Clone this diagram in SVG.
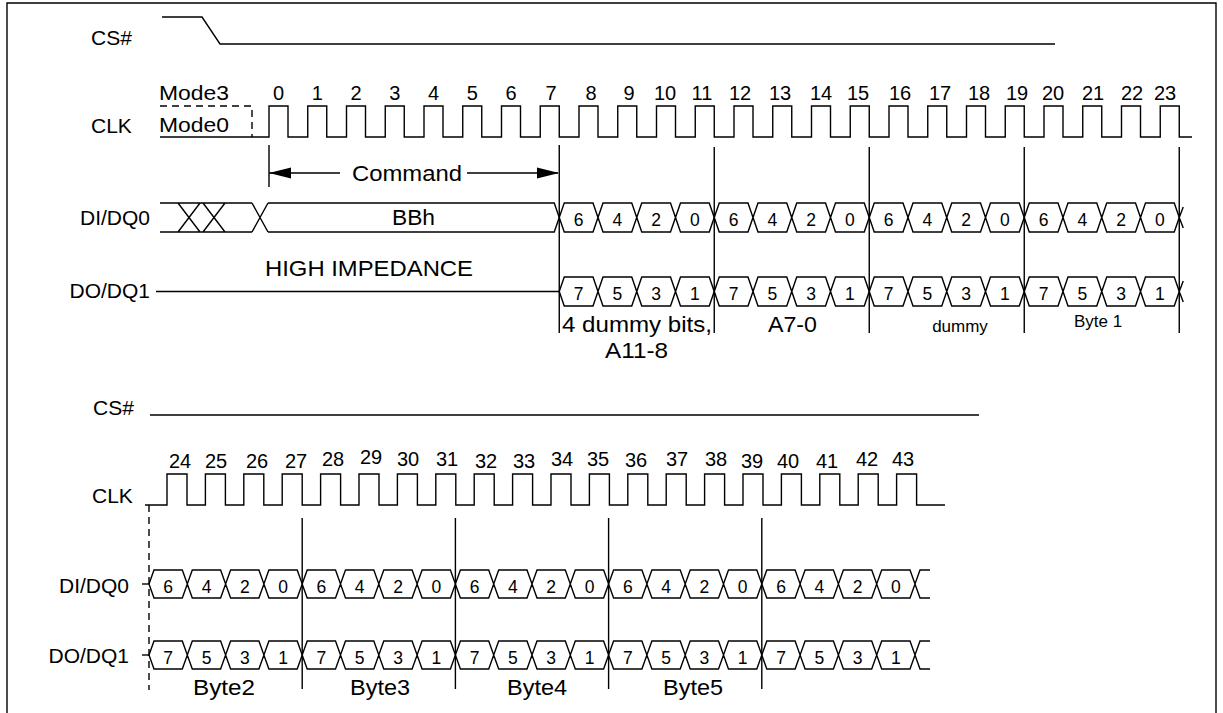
<svg xmlns="http://www.w3.org/2000/svg" width="1223" height="713" viewBox="0 0 1223 713">
<style>
.ln{stroke:#000;stroke-width:1.4;fill:none}
.dash{stroke:#000;stroke-width:1.4;fill:none;stroke-dasharray:7,5}
text{font-family:"Liberation Sans",Arial,sans-serif;fill:#000}
.lb{font-size:21px}
.big{font-size:22px}
.num{font-size:20px;text-anchor:middle}
.bit{font-size:17.5px;text-anchor:middle}
.sm{font-size:17px;text-anchor:middle}
.mid{text-anchor:middle}
.end{text-anchor:end}
</style>
<rect width="1223" height="713" fill="#fff"/>
<path class="ln" d="M7,713V3H1216V713"/>

<g id="cs-top">
<text class="lb" x="91" y="45">CS#</text>
<path class="ln" d="M162,17H202L220,44H1055"/>
</g>

<g id="clk-top">
<text class="lb" x="91" y="133">CLK</text>
<text class="lb" x="159" y="100" textLength="70" lengthAdjust="spacingAndGlyphs">Mode3</text>
<text class="lb" x="159" y="132" textLength="70" lengthAdjust="spacingAndGlyphs">Mode0</text>
<path class="dash" d="M160,106H252V137"/>
<path class="ln" d="M160,137H269v-31h19v31h19.75v-31h19v31h19.75v-31h19v31h19.75v-31h19v31h19.75v-31h19v31h19.75v-31h19v31h19.75v-31h19v31h19.75v-31h19v31h19.75v-31h19v31h19.75v-31h19v31h19.75v-31h19v31h19.75v-31h19v31h19.75v-31h19v31h19.75v-31h19v31h19.75v-31h19v31h19.75v-31h19v31h19.75v-31h19v31h19.75v-31h19v31h19.75v-31h19v31h19.75v-31h19v31h19.75v-31h19v31h19.75v-31h19v31h19.75v-31h19v31h19.75v-31h19v31H1192"/>
<g>
<text class="num" x="278.5" y="100">0</text><text class="num" x="317.3" y="100">1</text><text class="num" x="356" y="100">2</text><text class="num" x="394.8" y="100">3</text><text class="num" x="433.5" y="100">4</text><text class="num" x="472.3" y="100">5</text><text class="num" x="511" y="100">6</text><text class="num" x="551" y="100">7</text><text class="num" x="591" y="100">8</text><text class="num" x="629" y="100">9</text><text class="num" x="665" y="100">10</text><text class="num" x="702" y="100">11</text><text class="num" x="740" y="100">12</text><text class="num" x="780" y="100">13</text><text class="num" x="821" y="100">14</text><text class="num" x="858" y="100">15</text><text class="num" x="900" y="100">16</text><text class="num" x="940" y="100">17</text><text class="num" x="979" y="100">18</text><text class="num" x="1017" y="100">19</text><text class="num" x="1053" y="100">20</text><text class="num" x="1093" y="100">21</text><text class="num" x="1132" y="100">22</text><text class="num" x="1165" y="100">23</text>
</g>
</g>

<g id="command">
<path class="ln" d="M269,145V187M269,173H340M467,173H558"/>
<path d="M269,173L291,167.5V178.5Z M559,173L537,167.5V178.5Z" fill="#000"/>
<text class="big" x="352" y="181" textLength="110" lengthAdjust="spacingAndGlyphs">Command</text>
</g>

<g id="dq0-top">
<text class="lb end" x="150" y="225">DI/DQ0</text>
<path class="ln" d="M160,203H252M160,232H252M178,203L200,232M178,232L200,203M203,203L225,232M203,232L225,203M252,203L268,232M252,232L268,203M268,203H554.25L559.25,217.5L554.25,232H268"/>
<text class="big" x="392" y="225" textLength="43" lengthAdjust="spacingAndGlyphs">BBh</text>
<path class="ln" d="M559.25,217.5l5,-14.5h28.75l5,14.5l5,-14.5h28.75l5,14.5l5,-14.5h28.75l5,14.5l5,-14.5h28.75l5,14.5l5,-14.5h28.75l5,14.5l5,-14.5h28.75l5,14.5l5,-14.5h28.75l5,14.5l5,-14.5h28.75l5,14.5l5,-14.5h28.75l5,14.5l5,-14.5h28.75l5,14.5l5,-14.5h28.75l5,14.5l5,-14.5h28.75l5,14.5l5,-14.5h28.75l5,14.5l5,-14.5h28.75l5,14.5l5,-14.5h28.75l5,14.5l5,-14.5h28.75l5,14.5l4,-10.5M559.25,217.5l5,14.5h28.75l5,-14.5l5,14.5h28.75l5,-14.5l5,14.5h28.75l5,-14.5l5,14.5h28.75l5,-14.5l5,14.5h28.75l5,-14.5l5,14.5h28.75l5,-14.5l5,14.5h28.75l5,-14.5l5,14.5h28.75l5,-14.5l5,14.5h28.75l5,-14.5l5,14.5h28.75l5,-14.5l5,14.5h28.75l5,-14.5l5,14.5h28.75l5,-14.5l5,14.5h28.75l5,-14.5l5,14.5h28.75l5,-14.5l5,14.5h28.75l5,-14.5l5,14.5h28.75l5,-14.5l4,10.5"/>
<g>
<text class="bit" x="578.6" y="226">6</text><text class="bit" x="617.4" y="226">4</text><text class="bit" x="656.1" y="226">2</text><text class="bit" x="694.9" y="226">0</text><text class="bit" x="733.6" y="226">6</text><text class="bit" x="772.4" y="226">4</text><text class="bit" x="811.1" y="226">2</text><text class="bit" x="849.9" y="226">0</text><text class="bit" x="888.6" y="226">6</text><text class="bit" x="927.4" y="226">4</text><text class="bit" x="966.1" y="226">2</text><text class="bit" x="1004.9" y="226">0</text><text class="bit" x="1043.6" y="226">6</text><text class="bit" x="1082.4" y="226">4</text><text class="bit" x="1121.1" y="226">2</text><text class="bit" x="1159.9" y="226">0</text>
</g>
</g>

<g id="dq1-top">
<text class="lb end" x="150" y="298">DO/DQ1</text>
<text class="big" x="265" y="276" textLength="208" lengthAdjust="spacingAndGlyphs">HIGH IMPEDANCE</text>
<path class="ln" d="M156,291.5H559.25"/>
<path class="ln" d="M559.25,291.5l5,-14.5h28.75l5,14.5l5,-14.5h28.75l5,14.5l5,-14.5h28.75l5,14.5l5,-14.5h28.75l5,14.5l5,-14.5h28.75l5,14.5l5,-14.5h28.75l5,14.5l5,-14.5h28.75l5,14.5l5,-14.5h28.75l5,14.5l5,-14.5h28.75l5,14.5l5,-14.5h28.75l5,14.5l5,-14.5h28.75l5,14.5l5,-14.5h28.75l5,14.5l5,-14.5h28.75l5,14.5l5,-14.5h28.75l5,14.5l5,-14.5h28.75l5,14.5l5,-14.5h28.75l5,14.5l4,-10.5M559.25,291.5l5,14.5h28.75l5,-14.5l5,14.5h28.75l5,-14.5l5,14.5h28.75l5,-14.5l5,14.5h28.75l5,-14.5l5,14.5h28.75l5,-14.5l5,14.5h28.75l5,-14.5l5,14.5h28.75l5,-14.5l5,14.5h28.75l5,-14.5l5,14.5h28.75l5,-14.5l5,14.5h28.75l5,-14.5l5,14.5h28.75l5,-14.5l5,14.5h28.75l5,-14.5l5,14.5h28.75l5,-14.5l5,14.5h28.75l5,-14.5l5,14.5h28.75l5,-14.5l5,14.5h28.75l5,-14.5l4,10.5"/>
<g>
<text class="bit" x="578.6" y="300">7</text><text class="bit" x="617.4" y="300">5</text><text class="bit" x="656.1" y="300">3</text><text class="bit" x="694.9" y="300">1</text><text class="bit" x="733.6" y="300">7</text><text class="bit" x="772.4" y="300">5</text><text class="bit" x="811.1" y="300">3</text><text class="bit" x="849.9" y="300">1</text><text class="bit" x="888.6" y="300">7</text><text class="bit" x="927.4" y="300">5</text><text class="bit" x="966.1" y="300">3</text><text class="bit" x="1004.9" y="300">1</text><text class="bit" x="1043.6" y="300">7</text><text class="bit" x="1082.4" y="300">5</text><text class="bit" x="1121.1" y="300">3</text><text class="bit" x="1159.9" y="300">1</text>
</g>
</g>

<g id="markers-top">
<path class="ln" d="M559.25,145V333M714.25,147V333M869.25,147V333M1024.25,147V333M1179.25,147V333"/>
</g>

<g id="labels-top">
<text class="big" x="562" y="332" textLength="150" lengthAdjust="spacingAndGlyphs">4 dummy bits,</text>
<text class="big" x="605" y="358" textLength="63" lengthAdjust="spacingAndGlyphs">A11-8</text>
<text class="big" x="768" y="332" textLength="49" lengthAdjust="spacingAndGlyphs">A7-0</text>
<text class="sm" x="960" y="332">dummy</text>
<text class="sm" x="1098" y="327">Byte 1</text>
</g>

<g id="cs-bottom">
<text class="lb" x="93" y="415">CS#</text>
<path class="ln" d="M150,415H979"/>
</g>

<g id="clk-bottom">
<text class="lb" x="92" y="503">CLK</text>
<path class="ln" d="M145,505H167v-31h20v31h18.4v-31h20v31h18.4v-31h20v31h18.4v-31h20v31h18.4v-31h20v31h18.4v-31h20v31h18.4v-31h20v31h18.4v-31h20v31h18.4v-31h20v31h18.4v-31h20v31h18.4v-31h20v31h18.4v-31h20v31h18.4v-31h20v31h18.4v-31h20v31h18.4v-31h20v31h18.4v-31h20v31h18.4v-31h20v31h18.4v-31h20v31h18.4v-31h20v31h18.4v-31h20v31H945"/>
<g>
<text class="num" x="180" y="468">24</text><text class="num" x="216" y="468">25</text><text class="num" x="257" y="468">26</text><text class="num" x="296" y="468">27</text><text class="num" x="333" y="466">28</text><text class="num" x="371" y="464">29</text><text class="num" x="408" y="466">30</text><text class="num" x="447" y="466">31</text><text class="num" x="486" y="468">32</text><text class="num" x="524" y="468">33</text><text class="num" x="562" y="466">34</text><text class="num" x="598" y="466">35</text><text class="num" x="636" y="467">36</text><text class="num" x="677" y="466">37</text><text class="num" x="716" y="466">38</text><text class="num" x="752" y="468">39</text><text class="num" x="788" y="468">40</text><text class="num" x="827" y="468">41</text><text class="num" x="867" y="466">42</text><text class="num" x="903" y="466">43</text>
</g>
</g>

<g id="markers-bottom">
<path class="dash" d="M149,505V690"/>
<path class="ln" d="M302.2,518V689M455.4,518V689M608.6,518V689M761.8,518V689"/>
</g>

<g id="dq0-bottom">
<text class="lb end" x="129" y="593">DI/DQ0</text>
<path class="ln" d="M142,584H149"/>
<path class="ln" d="M149,584l5,-14h28.3l5,14l5,-14h28.3l5,14l5,-14h28.3l5,14l5,-14h28.3l5,14l5,-14h28.3l5,14l5,-14h28.3l5,14l5,-14h28.3l5,14l5,-14h28.3l5,14l5,-14h28.3l5,14l5,-14h28.3l5,14l5,-14h28.3l5,14l5,-14h28.3l5,14l5,-14h28.3l5,14l5,-14h28.3l5,14l5,-14h28.3l5,14l5,-14h28.3l5,14l5,-14h28.3l5,14l5,-14h28.3l5,14l5,-14h28.3l5,14l5,-14h28.3l5,14l5,-14h10M149,584l5,14h28.3l5,-14l5,14h28.3l5,-14l5,14h28.3l5,-14l5,14h28.3l5,-14l5,14h28.3l5,-14l5,14h28.3l5,-14l5,14h28.3l5,-14l5,14h28.3l5,-14l5,14h28.3l5,-14l5,14h28.3l5,-14l5,14h28.3l5,-14l5,14h28.3l5,-14l5,14h28.3l5,-14l5,14h28.3l5,-14l5,14h28.3l5,-14l5,14h28.3l5,-14l5,14h28.3l5,-14l5,14h28.3l5,-14l5,14h28.3l5,-14l5,14h28.3l5,-14l5,14h10"/>
<g>
<text class="bit" x="168.2" y="593">6</text><text class="bit" x="206.5" y="593">4</text><text class="bit" x="244.8" y="593">2</text><text class="bit" x="283.1" y="593">0</text><text class="bit" x="321.4" y="593">6</text><text class="bit" x="359.7" y="593">4</text><text class="bit" x="398" y="593">2</text><text class="bit" x="436.3" y="593">0</text><text class="bit" x="474.6" y="593">6</text><text class="bit" x="512.9" y="593">4</text><text class="bit" x="551.2" y="593">2</text><text class="bit" x="589.5" y="593">0</text><text class="bit" x="627.8" y="593">6</text><text class="bit" x="666.1" y="593">4</text><text class="bit" x="704.4" y="593">2</text><text class="bit" x="742.7" y="593">0</text><text class="bit" x="781" y="593">6</text><text class="bit" x="819.3" y="593">4</text><text class="bit" x="857.6" y="593">2</text><text class="bit" x="895.9" y="593">0</text>
</g>
</g>

<g id="dq1-bottom">
<text class="lb end" x="129" y="663">DO/DQ1</text>
<path class="ln" d="M142,655H149"/>
<path class="ln" d="M149,655l5,-14h28.3l5,14l5,-14h28.3l5,14l5,-14h28.3l5,14l5,-14h28.3l5,14l5,-14h28.3l5,14l5,-14h28.3l5,14l5,-14h28.3l5,14l5,-14h28.3l5,14l5,-14h28.3l5,14l5,-14h28.3l5,14l5,-14h28.3l5,14l5,-14h28.3l5,14l5,-14h28.3l5,14l5,-14h28.3l5,14l5,-14h28.3l5,14l5,-14h28.3l5,14l5,-14h28.3l5,14l5,-14h28.3l5,14l5,-14h28.3l5,14l5,-14h28.3l5,14l5,-14h10M149,655l5,14h28.3l5,-14l5,14h28.3l5,-14l5,14h28.3l5,-14l5,14h28.3l5,-14l5,14h28.3l5,-14l5,14h28.3l5,-14l5,14h28.3l5,-14l5,14h28.3l5,-14l5,14h28.3l5,-14l5,14h28.3l5,-14l5,14h28.3l5,-14l5,14h28.3l5,-14l5,14h28.3l5,-14l5,14h28.3l5,-14l5,14h28.3l5,-14l5,14h28.3l5,-14l5,14h28.3l5,-14l5,14h28.3l5,-14l5,14h28.3l5,-14l5,14h28.3l5,-14l5,14h10"/>
<g>
<text class="bit" x="168.2" y="664">7</text><text class="bit" x="206.5" y="664">5</text><text class="bit" x="244.8" y="664">3</text><text class="bit" x="283.1" y="664">1</text><text class="bit" x="321.4" y="664">7</text><text class="bit" x="359.7" y="664">5</text><text class="bit" x="398" y="664">3</text><text class="bit" x="436.3" y="664">1</text><text class="bit" x="474.6" y="664">7</text><text class="bit" x="512.9" y="664">5</text><text class="bit" x="551.2" y="664">3</text><text class="bit" x="589.5" y="664">1</text><text class="bit" x="627.8" y="664">7</text><text class="bit" x="666.1" y="664">5</text><text class="bit" x="704.4" y="664">3</text><text class="bit" x="742.7" y="664">1</text><text class="bit" x="781" y="664">7</text><text class="bit" x="819.3" y="664">5</text><text class="bit" x="857.6" y="664">3</text><text class="bit" x="895.9" y="664">1</text>
</g>
</g>

<g id="labels-bottom">
<text class="big" x="193" y="695" textLength="62" lengthAdjust="spacingAndGlyphs">Byte2</text>
<text class="big" x="350" y="695" textLength="60" lengthAdjust="spacingAndGlyphs">Byte3</text>
<text class="big" x="507" y="695" textLength="60" lengthAdjust="spacingAndGlyphs">Byte4</text>
<text class="big" x="663" y="695" textLength="60" lengthAdjust="spacingAndGlyphs">Byte5</text>
</g>
</svg>
